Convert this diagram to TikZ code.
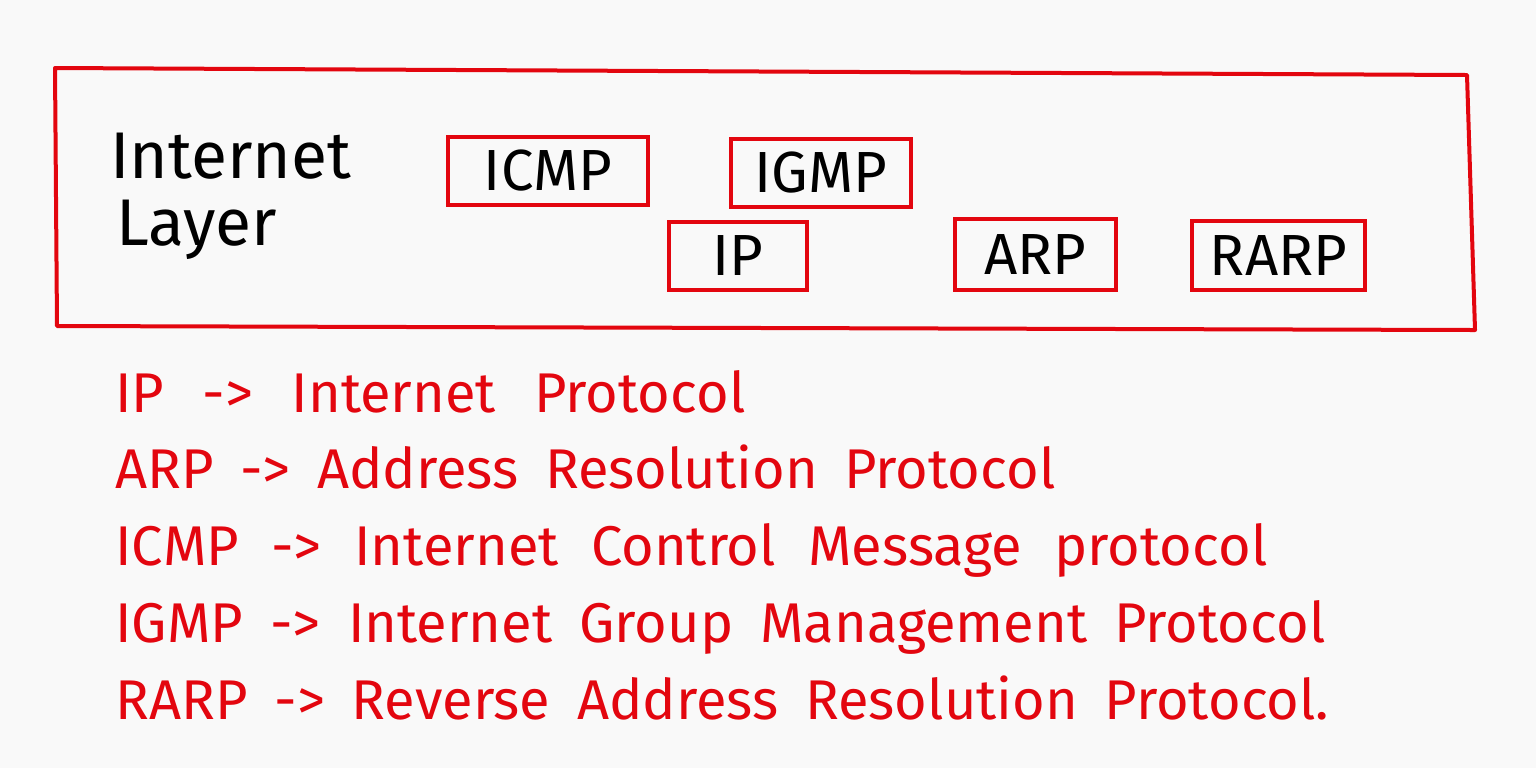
\documentclass[tikz,border=0pt]{standalone}
\usepackage{fontspec}
\setmainfont{Fira Sans}
\definecolor{pen}{HTML}{E3060F}
\definecolor{paper}{HTML}{F9F9F9}
\tikzset{
  protobox/.style={draw=pen, line width=1.6pt, rectangle, inner sep=0pt, font=\fontsize{29}{33}\selectfont, text=black},
  legend/.style={anchor=base west, inner sep=0pt, text=pen, font=\fontsize{28}{32}\selectfont},
  title/.style={anchor=base west, inner sep=0pt, text=black, font=\fontsize{33}{37}\selectfont},
  frame/.style={draw=pen, line width=2pt, line join=round}
}
\begin{document}
\begin{tikzpicture}[x=0.5pt, y=-0.5pt]
\fill[paper] (0,0) rectangle (1536,768);
\useasboundingbox (0,0) rectangle (1536,768);
% outer frame
\draw[frame] (55,68) -- (1467,75) -- (1475,330) -- (57,326) -- cycle;
% layer title
\node[title] (t1) at (110,178) {Internet};
\node[title] (t2) at (116,245) {Layer};
% protocol boxes
\node[protobox, minimum width=100pt, minimum height=34pt] (icmp) at (548,171) {ICMP};
\node[protobox, minimum width=90pt, minimum height=34pt] (igmp) at (821,173) {IGMP};
\node[protobox, minimum width=69pt, minimum height=34pt] (ip) at (738,256) {IP};
\node[protobox, minimum width=80.5pt, minimum height=35.5pt] (arp) at (1035.5,254.5) {ARP};
\node[protobox, minimum width=86.5pt, minimum height=34.5pt] (rarp) at (1278.5,255.5) {RARP};
% legend
\node[legend] (l1) at (115,412) {\makebox[315pt][s]{IP -> Internet Protocol}};
\node[legend] (l2) at (115,488) {\makebox[470pt][s]{ARP -> Address Resolution Protocol}};
\node[legend] (l3) at (115,565) {\makebox[576pt][s]{ICMP -> Internet Control Message protocol}};
\node[legend] (l4) at (115,642) {\makebox[605pt][s]{IGMP -> Internet Group Management Protocol}};
\node[legend] (l5) at (115,719) {\makebox[607pt][s]{RARP -> Reverse Address Resolution Protocol.}};
\end{tikzpicture}
\end{document}
